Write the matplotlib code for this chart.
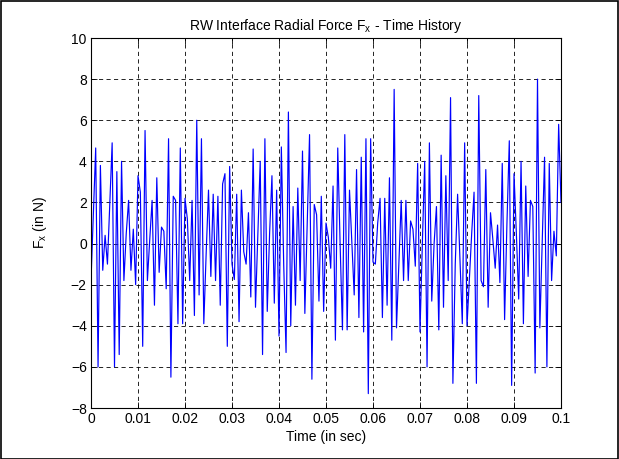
import numpy as np
import matplotlib
matplotlib.use("Agg")
import matplotlib.pyplot as plt
from matplotlib.patches import Rectangle

plt.rcParams['font.family'] = ['Liberation Sans', 'DejaVu Sans']
plt.rcParams['mathtext.fontset'] = 'custom'
plt.rcParams['mathtext.rm'] = 'Liberation Sans'
plt.rcParams['mathtext.it'] = 'Liberation Sans'

# sample times (s) and force values (N)
time_step = 0.0005
force_x = [
    -1.8, 1.4, 4.65, -6.0, 3.8, -1.3, 0.4, -1.0, 2.0, 4.9, -6.0, 3.5, -5.4, 4.0, -1.8, 0.5, 2.1,
    -1.3, 0.7, -2.0, 3.3, 2.5, -5.0, 5.5, -1.8, 0.2, 2.1, -3.0, 3.2, -1.4, 0.8, 0.6, -2.2, 5.1,
    -6.5, 2.3, 2.1, -3.9, 4.65, -3.9, 2.2, 1.2, -1.8, 2.1, -3.5, 6.0, -2.5, 5.1, -3.9, -0.5, 2.6,
    -1.6, 2.4, -1.8, 2.3, -3.0, 2.9, 3.4, -5.0, 3.75, -1.0, -1.75, 2.4, -3.8, 2.6, -0.4, -1.0, 1.5,
    -2.6, 4.6, -3.1, 0.5, 4.0, -5.4, 5.1, -3.3, 0.5, 3.3, -2.9, 2.6, -4.5, 4.7, -1.0, -5.3, 6.4,
    -4.0, 1.8, -3.0, 2.7, -1.8, 4.5, -3.4, 1.0, 5.3, -6.6, 1.9, 1.4, -2.8, 2.3, -3.3, 1.0, 0.3,
    -1.2, 2.8, -4.7, 4.65, 0.0, -4.2, 5.3, -4.2, 2.6, 0.0, -2.5, 3.6, -3.6, 4.2, -4.3, 5.1, -7.3,
    5.1, -0.9, -1.0, 1.0, 2.2, -3.6, 2.2, -3.0, 3.2, -4.7, 7.5, -4.1, -1.0, 2.1, -1.8, 2.1, -1.8,
    1.1, 0.7, -1.1, 3.9, -4.3, 0.0, 4.0, -6.0, 4.9, -2.8, 0.0, 1.8, -4.2, 4.3, -3.1, 3.3, -1.8,
    7.1, -6.8, -1.0, 2.4, -0.8, -3.9, 4.9, -4.0, -1.7, 0.5, 2.5, -6.8, 7.2, -1.8, -2.1, 3.6, -3.1,
    1.5, 0.2, -1.2, 0.9, -1.9, 3.9, -3.7, 1.0, 5.0, -6.9, 3.4, 0.5, -2.7, 4.0, -3.9, 2.8, -1.6,
    2.1, 1.8, -6.3, 8.0, -4.1, 0.0, 4.2, -6.0, 3.9, -1.8, 0.6, -0.6, 5.8, 2.0,
]
time_s = np.arange(len(force_x)) * time_step

x_ticks = [0, 0.01, 0.02, 0.03, 0.04, 0.05, 0.06, 0.07, 0.08, 0.09, 0.1]
x_tick_labels = ['0', '0.01', '0.02', '0.03', '0.04', '0.05', '0.06', '0.07', '0.08', '0.09', '0.1']
y_ticks = [-8, -6, -4, -2, 0, 2, 4, 6, 8, 10]

fig = plt.figure(figsize=(6.19, 4.59), dpi=100)
ax = fig.add_axes([91/619, 1 - 408/459, 470/619, 370/459])

ax.plot(time_s, force_x, color='#0000FF', linewidth=0.85)

ax.set_xlim(0, 0.1)
ax.set_ylim(-8, 10)
ax.set_xticks(x_ticks)
ax.set_xticklabels(x_tick_labels)
ax.set_yticks(y_ticks)
ax.grid(True, color='black', linestyle=(0, (5, 4)), linewidth=0.6)
ax.tick_params(direction='in', top=True, right=True, labelsize=10, length=4, width=0.6, pad=3)
for s in ax.spines.values():
    s.set_linewidth(0.8)

ax.set_title(r'RW Interface Radial Force F$_\mathregular{x}$ - Time History', fontsize=10, pad=6)
ax.set_xlabel('Time (in sec)', fontsize=10, labelpad=3)
ax.set_ylabel(r'F$_\mathregular{x}$ (in N)', fontsize=10, labelpad=16)

fig.patches.append(Rectangle((0.001, 0.001), 0.997, 0.997, transform=fig.transFigure,
                             fill=False, edgecolor='black', linewidth=1.2))

fig.savefig('out.png', dpi=100)
